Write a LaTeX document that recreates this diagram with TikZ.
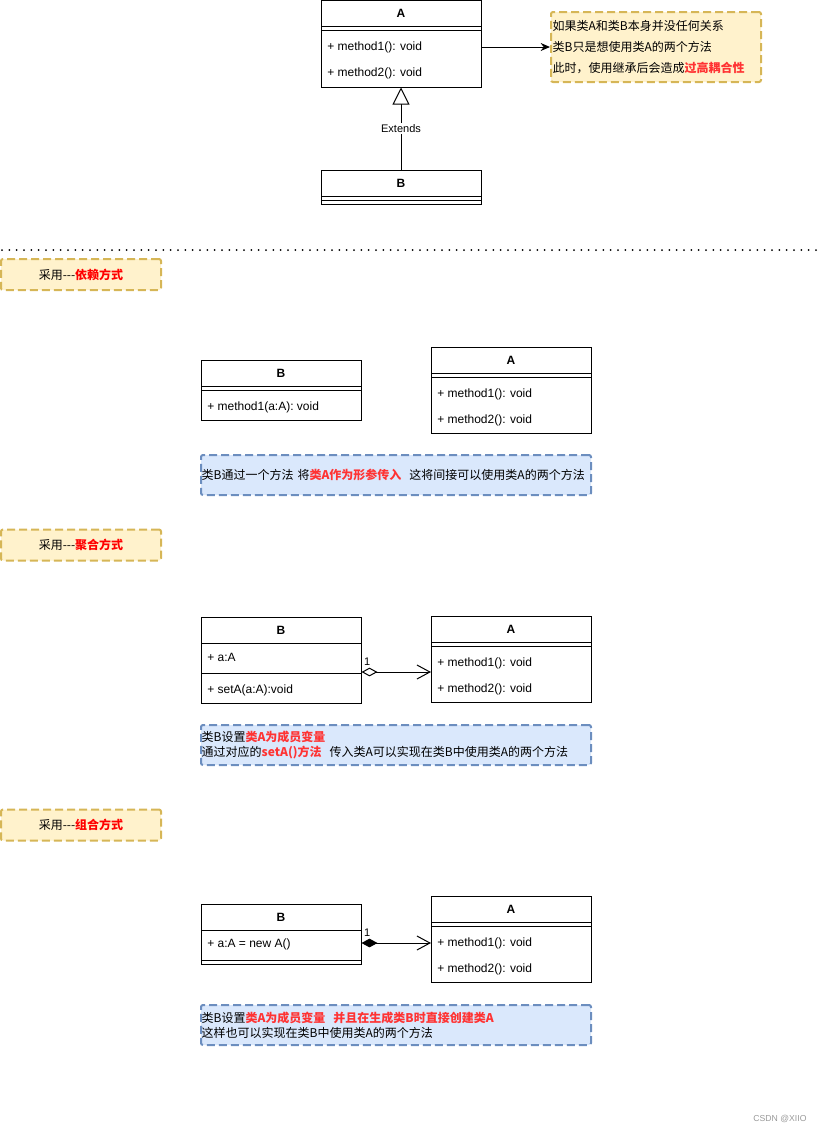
\documentclass[tikz,border=0pt]{standalone}
\usepackage{fontspec}
\setmainfont{Liberation Sans}
\newfontfamily\cjk{Noto Sans CJK SC}
\usetikzlibrary{arrows.meta}
\definecolor{tagfill}{HTML}{FFF2CC}
\definecolor{tagline}{HTML}{D6B656}
\definecolor{notefill}{HTML}{DAE8FC}
\definecolor{noteline}{HTML}{6C8EBF}
\definecolor{hotred}{HTML}{FF3333}
\tikzset{
  umlbox/.style={draw, line width=0.75pt, minimum width=120pt, inner sep=0pt},
  clsname/.style={font=\fontsize{9}{11}\selectfont\bfseries, inner sep=0.75pt},
  member/.style={anchor=west, font=\fontsize{9}{11}\selectfont, inner sep=0.75pt},
  yellowtag/.style={draw=tagline, fill=tagfill, line width=1.5pt, dash pattern=on 6pt off 3pt,
    rounded corners=1.5pt, minimum width=120pt, minimum height=23.25pt, inner sep=0pt,
    font=\fontsize{9}{11}\selectfont\cjk},
  bluenote/.style={draw=noteline, fill=notefill, line width=1.5pt, dash pattern=on 6pt off 3pt,
    rounded corners=1.5pt, minimum width=292.5pt, minimum height=30pt, inner sep=0.4pt,
    text width=291.5pt, align=left, font=\fontsize{9}{11.25}\selectfont\cjk},
  edge/.style={line width=0.75pt}
}
\begin{document}
\begin{tikzpicture}[x=0.75pt,y=0.75pt,yscale=-1,xscale=1]
\useasboundingbox (0,0) rectangle (823,1133);

%Inheritance: class A
\node[umlbox, minimum height=65.25pt] (topA) at (401,43.5) {};
\draw[edge] (321,26) -- (481,26);
\draw[edge] (321,30) -- (481,30);
\node[clsname] (topAname) at (401,13) {A};
\node[member] (topAm1) at (326,47) {+ method1(): void};
\node[member] (topAm2) at (326,73) {+ method2(): void};
%Inheritance: class B
\node[umlbox, minimum height=25.5pt] (topB) at (401,187) {};
\draw[edge] (321,196) -- (481,196);
\draw[edge] (321,200) -- (481,200);
\node[clsname] (topBname) at (401,183) {B};
%Note
\node[draw=tagline, fill=tagfill, line width=1.5pt, dash pattern=on 6pt off 3pt, rounded corners=1.5pt,
  minimum width=157.5pt, minimum height=52.5pt, inner sep=1pt, text width=155pt, align=left,
  font=\fontsize{9}{15.75}\selectfont\cjk] (topNote) at (656,47)
  {如果类A和类B本身并没任何关系\\类B只是想使用类A的两个方法\\此时，使用继承后会造成\textcolor{hotred}{\bfseries 过高耦合性}};
\draw[edge, -{Stealth[length=7pt,width=6pt]}] (topNote.west -| topA.east) -- (topNote.west);
\draw[edge, -{Triangle[open,length=12.75pt,width=12.75pt,fill=white]}] (topB) -- (topA)
  node[midway, fill=white, inner sep=1pt, font=\fontsize{8.25}{10}\selectfont] (extLabel) {Extends};

%Separator
\draw[line width=1.5pt, line cap=round, dash pattern=on 0pt off 5.5pt] (2,250) -- (823,250);

%Dependency
\node[yellowtag] (tagDep) at (81,274.5) {采用---\textcolor{red}{\bfseries 依赖方式}};
\node[umlbox, minimum height=45pt] (depB) at (281,390) {};
\draw[edge] (201,386) -- (361,386);
\draw[edge] (201,390) -- (361,390);
\node[clsname] (depBname) at (281,373) {B};
\node[member] (depBm1) at (206,407) {+ method1(a:A): void};
\node[umlbox, minimum height=64.5pt] (depA) at (511,390) {};
\draw[edge] (431,373) -- (591,373);
\draw[edge] (431,377) -- (591,377);
\node[clsname] (depAname) at (511,360) {A};
\node[member] (depAm1) at (436,394) {+ method1(): void};
\node[member] (depAm2) at (436,420) {+ method2(): void};
\node[bluenote] (depNote) at (396,475)
  {类B通过一个方法 将\textcolor{hotred}{\bfseries 类A作为形参传入}~ 这将间接可以使用类A的两个方法};

%Aggregation
\node[yellowtag] (tagAgg) at (81,545) {采用---\textcolor{red}{\bfseries 聚合方式}};
\node[umlbox, minimum height=64.5pt] (aggB) at (281,660) {};
\draw[edge] (201,643) -- (361,643);
\draw[edge] (201,673) -- (361,673);
\node[clsname] (aggBname) at (281,630) {B};
\node[member] (aggBf) at (206,657) {+ a:A};
\node[member] (aggBm) at (206,690) {+ setA(a:A):void};
\node[umlbox, minimum height=64.5pt] (aggA) at (511,659) {};
\draw[edge] (431,642) -- (591,642);
\draw[edge] (431,646) -- (591,646);
\node[clsname] (aggAname) at (511,629) {A};
\node[member] (aggAm1) at (436,663) {+ method1(): void};
\node[member] (aggAm2) at (436,689) {+ method2(): void};
\coordinate (aggEnd) at (431,672);
\draw[edge, {Diamond[open,length=12pt,width=6.5pt]}-{Straight Barb[length=9.75pt,width=10.5pt]}]
  (aggEnd -| aggB.east) -- (aggEnd)
  node[pos=0, anchor=south west, inner sep=1.5pt, yshift=3pt, font=\fontsize{8.25}{10}\selectfont] (aggMult) {1};
\node[bluenote] (aggNote) at (396,745)
  {类B设置\textcolor{hotred}{\bfseries 类A为成员变量}\\通过对应的\textcolor{hotred}{\bfseries setA()方法}~ 传入类A可以实现在类B中使用类A的两个方法};

%Composition
\node[yellowtag] (tagComp) at (81,825) {采用---\textcolor{red}{\bfseries 组合方式}};
\node[umlbox, minimum height=45pt] (compB) at (281,934) {};
\draw[edge] (201,930) -- (361,930);
\draw[edge] (201,960) -- (361,960);
\node[clsname] (compBname) at (281,917) {B};
\node[member] (compBf) at (206,944) {+ a:A = new A()};
\node[umlbox, minimum height=64.5pt] (compA) at (511,939) {};
\draw[edge] (431,922) -- (591,922);
\draw[edge] (431,926) -- (591,926);
\node[clsname] (compAname) at (511,909) {A};
\node[member] (compAm1) at (436,943) {+ method1(): void};
\node[member] (compAm2) at (436,969) {+ method2(): void};
\coordinate (compEnd) at (431,943);
\draw[edge, {Diamond[length=12pt,width=6.5pt]}-{Straight Barb[length=9.75pt,width=10.5pt]}]
  (compEnd -| compB.east) -- (compEnd)
  node[pos=0, anchor=south west, inner sep=1.5pt, yshift=3pt, font=\fontsize{8.25}{10}\selectfont] (compMult) {1};
\node[bluenote] (compNote) at (396,1025)
  {类B设置\textcolor{hotred}{\bfseries 类A为成员变量~ 并且在生成类B时直接创建类A}\\这样也可以实现在类B中使用类A的两个方法};

% Text Node
\node[text=black!40, font=\fontsize{6.5}{8}\selectfont, inner sep=0.75pt] (mark) at (780,1119) {CSDN @XIIO};
\end{tikzpicture}
\end{document}
